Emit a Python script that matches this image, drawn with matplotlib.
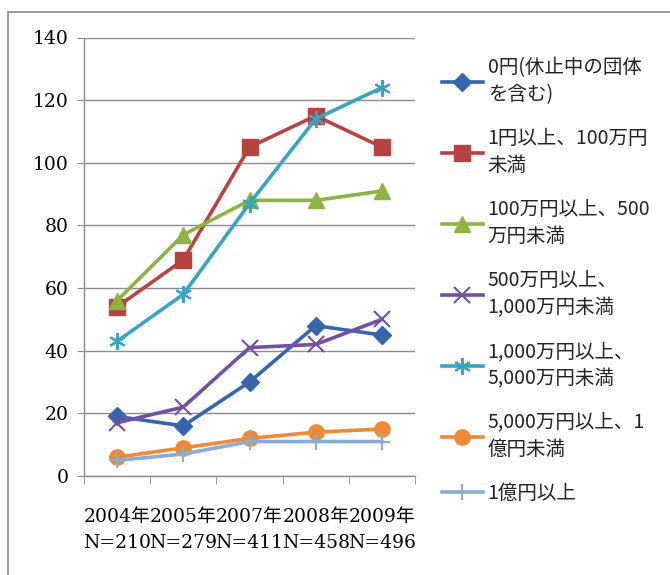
import matplotlib
matplotlib.use("Agg")
import matplotlib.pyplot as plt
from matplotlib.patches import Rectangle

categories = ["2004年\nN=210", "2005年\nN=279", "2007年\nN=411", "2008年\nN=458", "2009年\nN=496"]
labels = [
    "0円(休止中の団体\nを含む)",
    "1円以上、100万円\n未満",
    "100万円以上、500\n万円未満",
    "500万円以上、\n1,000万円未満",
    "1,000万円以上、\n5,000万円未満",
    "5,000万円以上、1\n億円未満",
    "1億円以上",
]
s0 = [19, 16, 30, 48, 45]
s1 = [54, 69, 105, 115, 105]
s2 = [56, 77, 88, 88, 91]
s3 = [17, 22, 41, 42, 50]
s4 = [43, 58, 87, 114, 124]
s5 = [6, 9, 12, 14, 15]
s6 = [5, 7, 11, 11, 11]
series = [s0, s1, s2, s3, s4, s5, s6]

colors = ["#3466AE", "#B8423F", "#8CB441", "#7350A0", "#35A5C3", "#EE8A35", "#8AAAD8"]
markers = ["D", "s", "^", "x", (6, 2, 0), "o", "+"]
msizes = [9, 11, 11, 11, 12, 11, 12]

serif = ["DejaVu Serif", "Noto Sans CJK JP"]
sans = ["Noto Sans CJK JP", "DejaVu Sans"]

fig = plt.figure(figsize=(6.7, 5.75), dpi=100)
fig.patches.append(Rectangle((8/670, -0.1), 1.2, 1 - 12/575 + 0.1, transform=fig.transFigure,
                             fill=False, edgecolor="#8a8a8a", linewidth=1.2))
ax = fig.add_axes([84/670, 1 - 476/575, (415 - 84)/670, (476 - 37.5)/575])

x = list(range(len(categories)))
handles = []
for vals, c, m, ms, lab in zip(series, colors, markers, msizes, labels):
    mew = 1.5 if m in ("x", "+") or isinstance(m, tuple) else 1
    h, = ax.plot(x, vals, color=c, linewidth=2.6, marker=m, markersize=ms,
                 markeredgewidth=mew, label=lab, clip_on=False)
    handles.append(h)

ax.set_xlim(-0.5, 4.5)
ax.set_ylim(0, 140)
ax.set_yticks(range(0, 141, 20))
ax.yaxis.grid(True, color="#8c8c8c", linewidth=1)
ax.set_axisbelow(True)
for sp in ["top", "right"]:
    ax.spines[sp].set_visible(False)
for sp in ["left", "bottom"]:
    ax.spines[sp].set_color("#8c8c8c")
    ax.spines[sp].set_linewidth(1)

ax.set_xticks(x)
ax.set_xticklabels(categories, fontfamily=serif, fontsize=13.5, linespacing=1.55)
ax.set_xticks([i - 0.5 for i in range(len(categories) + 1)], minor=True)
ax.tick_params(axis="x", which="major", length=0, pad=23)
ax.tick_params(axis="x", which="minor", length=6, color="#8c8c8c", direction="out")
ax.tick_params(axis="y", length=5, color="#8c8c8c", pad=6)
for t in ax.get_yticklabels():
    t.set_fontfamily(serif)
    t.set_fontsize(13.5)

leg = fig.legend(handles=handles, loc="upper left", bbox_to_anchor=(442/670, 1 - 57/575),
                 frameon=False, prop={"family": sans, "size": 14},
                 handlelength=2.1, handletextpad=0.25, labelspacing=1.16,
                 borderaxespad=0, borderpad=0)
for t in leg.get_texts():
    t.set_linespacing(1.4)
    t.set_color("#222222")

fig.savefig("out.png", dpi=100)
